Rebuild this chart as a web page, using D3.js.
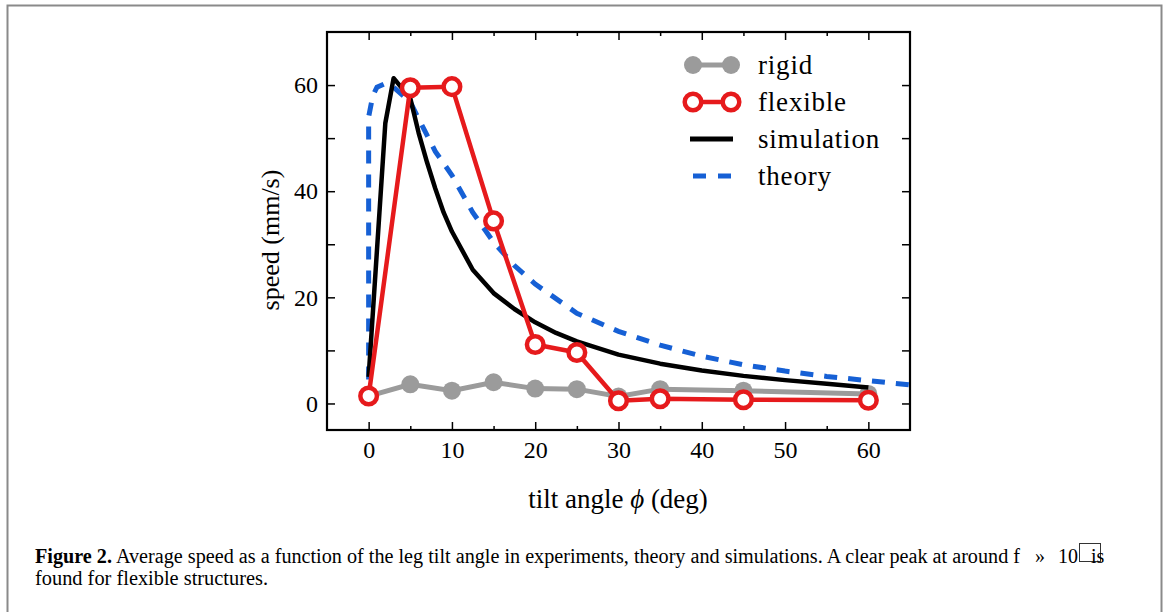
<!DOCTYPE html>
<html>
<head>
<meta charset="utf-8">
<script src="https://cdn.jsdelivr.net/npm/d3@7"></script>
<style>
  body { margin: 0; background: #fff; }
  svg text { font-family: "Liberation Serif", "DejaVu Serif", serif; fill: #000; }
</style>
</head>
<body>
<div id="chart"></div>
<script>
// tilt angles (deg) for experiments
var angles = [0, 5, 10, 15, 20, 25, 30, 35, 45, 60];
var rigid = [1.4, 3.6, 2.4, 4.0, 2.8, 2.7, 1.3, 2.7, 2.4, 1.8];
var flexible = [1.4, 59.5, 59.7, 34.4, 11.1, 9.6, 0.5, 0.9, 0.7, 0.6];

// simulation curve
var simAngles = [0, 2, 3, 5, 6, 7, 8, 9, 10, 12.5, 15, 17.5, 20, 22.5, 25, 30, 35, 40, 45, 50, 55, 60];
var simSpeed = [5, 52.8, 61.3, 57.5, 51, 45.5, 40.5, 36, 32.4, 25.2, 20.8, 17.8, 15.3, 13.3, 11.7, 9.2, 7.5, 6.2, 5.2, 4.4, 3.7, 3.0];

// theory curve
var thAngles = [0, 0, 0.5, 1, 2, 3, 4, 5, 6.5, 8, 10, 12.5, 15, 17.5, 20, 25, 30, 35, 40, 45, 50, 55, 60, 65];
var thSpeed = [0, 54, 58, 59.6, 60.3, 59.6, 58.2, 56.8, 52.1, 47.5, 43, 36, 30.4, 26, 22.5, 17, 13.6, 11, 8.9, 7.3, 6.1, 5.1, 4.3, 3.5];

var xTicks = [0, 10, 20, 30, 40, 50, 60];
var xMinor = [5, 15, 25, 35, 45, 55];
var yTicks = [0, 10, 20, 30, 40, 50, 60];
var yLabels = [0, 20, 40, 60];

var legendNames = ["rigid", "flexible", "simulation", "theory"];

var grey = "#9b9b9b", red = "#e61a1c", blue = "#1660d5";

var svg = d3.select("#chart").append("svg")
    .attr("width", 1169)
    .attr("height", 612);

// page border
svg.append("rect")
    .attr("x", 7.5).attr("y", 5.5)
    .attr("width", 1154).attr("height", 620)
    .attr("fill", "none")
    .attr("stroke", "#8a8a8a")
    .attr("stroke-width", 2);

var pLeft = 327, pTop = 32, pRight = 910, pBottom = 430;

var x = d3.scaleLinear().domain([-5, 65]).range([pLeft, pRight]);
var y = d3.scaleLinear().domain([-5, 70]).range([pBottom, pTop]);

// clip for the plot area
svg.append("clipPath").attr("id", "plotclip")
  .append("rect")
    .attr("x", pLeft).attr("y", pTop)
    .attr("width", pRight - pLeft).attr("height", pBottom - pTop);

// axes with inward ticks on all four sides
function styleAxis(g) {
    g.select(".domain").remove();
    g.selectAll("line").attr("stroke", "#000").attr("stroke-width", 1.5);
    g.selectAll("text").attr("font-family", "Liberation Serif").attr("font-size", 24).attr("fill", "#000");
}
svg.append("g")
    .attr("transform", "translate(0," + pBottom + ")")
    .call(d3.axisBottom(x).tickValues(xTicks).tickSizeInner(-8).tickSizeOuter(0).tickPadding(11))
    .call(styleAxis);
svg.append("g")
    .attr("transform", "translate(0," + pBottom + ")")
    .call(d3.axisBottom(x).tickValues(xMinor).tickSizeInner(-4).tickSizeOuter(0).tickFormat(""))
    .call(styleAxis);
svg.append("g")
    .attr("transform", "translate(0," + pTop + ")")
    .call(d3.axisTop(x).tickValues(xTicks).tickSizeInner(-8).tickSizeOuter(0).tickFormat(""))
    .call(styleAxis);
svg.append("g")
    .attr("transform", "translate(0," + pTop + ")")
    .call(d3.axisTop(x).tickValues(xMinor).tickSizeInner(-4).tickSizeOuter(0).tickFormat(""))
    .call(styleAxis);
svg.append("g")
    .attr("transform", "translate(" + pLeft + ",0)")
    .call(d3.axisLeft(y).tickValues(yTicks).tickSizeInner(-8).tickSizeOuter(0).tickPadding(9)
        .tickFormat(function (d) { return yLabels.indexOf(d) >= 0 ? d : ""; }))
    .call(styleAxis);
svg.append("g")
    .attr("transform", "translate(" + pRight + ",0)")
    .call(d3.axisRight(y).tickValues(yTicks).tickSizeInner(-8).tickSizeOuter(0).tickFormat(""))
    .call(styleAxis);

// frame
svg.append("rect")
    .attr("x", pLeft).attr("y", pTop)
    .attr("width", pRight - pLeft).attr("height", pBottom - pTop)
    .attr("fill", "none")
    .attr("stroke", "#000")
    .attr("stroke-width", 2.2);

var plot = svg.append("g").attr("clip-path", "url(#plotclip)");
var line = d3.line().x(function (d) { return x(d[0]); }).y(function (d) { return y(d[1]); });

// rigid
plot.append("path")
    .datum(d3.zip(angles, rigid))
    .attr("d", line)
    .attr("fill", "none").attr("stroke", grey).attr("stroke-width", 5);
plot.selectAll(".rigid").data(d3.zip(angles, rigid)).enter()
  .append("circle")
    .attr("cx", function (d) { return x(d[0]); })
    .attr("cy", function (d) { return y(d[1]); })
    .attr("r", 9)
    .attr("fill", grey);

// theory
plot.append("path")
    .datum(d3.zip(thAngles, thSpeed))
    .attr("d", line)
    .attr("fill", "none").attr("stroke", blue).attr("stroke-width", 5)
    .attr("stroke-dasharray", "13,11");

// simulation
plot.append("path")
    .datum(d3.zip(simAngles, simSpeed))
    .attr("d", line)
    .attr("fill", "none").attr("stroke", "#000").attr("stroke-width", 4.5)
    .attr("stroke-linejoin", "round");

// flexible
plot.append("path")
    .datum(d3.zip(angles, flexible))
    .attr("d", line)
    .attr("fill", "none").attr("stroke", red).attr("stroke-width", 4.5)
    .attr("stroke-linejoin", "round");
plot.selectAll(".flex").data(d3.zip(angles, flexible)).enter()
  .append("circle")
    .attr("cx", function (d) { return x(d[0]); })
    .attr("cy", function (d) { return y(d[1]); })
    .attr("r", 8.3)
    .attr("fill", "#fff")
    .attr("stroke", red).attr("stroke-width", 4.5);

// legend
var leg = svg.append("g");
var rowY = [65, 102, 139, 176];
leg.append("line").attr("x1", 693).attr("x2", 731).attr("y1", rowY[0]).attr("y2", rowY[0])
    .attr("stroke", grey).attr("stroke-width", 5);
[693, 731].forEach(function (cx) {
    leg.append("circle").attr("cx", cx).attr("cy", rowY[0]).attr("r", 9).attr("fill", grey);
});
leg.append("line").attr("x1", 693).attr("x2", 731).attr("y1", rowY[1]).attr("y2", rowY[1])
    .attr("stroke", red).attr("stroke-width", 4.5);
[693, 731].forEach(function (cx) {
    leg.append("circle").attr("cx", cx).attr("cy", rowY[1]).attr("r", 8.3)
        .attr("fill", "#fff").attr("stroke", red).attr("stroke-width", 4.5);
});
leg.append("line").attr("x1", 690).attr("x2", 733).attr("y1", rowY[2]).attr("y2", rowY[2])
    .attr("stroke", "#000").attr("stroke-width", 5);
leg.append("line").attr("x1", 693).attr("x2", 731).attr("y1", rowY[3]).attr("y2", rowY[3])
    .attr("stroke", blue).attr("stroke-width", 5).attr("stroke-dasharray", "13,12");
leg.selectAll("text").data(legendNames).enter()
  .append("text")
    .attr("x", 758)
    .attr("y", function (d, i) { return rowY[i] + 9; })
    .attr("font-size", 27)
    .attr("letter-spacing", 0.8)
    .text(function (d) { return d; });

// axis titles
var xt = svg.append("text")
    .attr("x", 618).attr("y", 508)
    .attr("text-anchor", "middle")
    .attr("font-size", 27);
xt.append("tspan").text("tilt angle ");
xt.append("tspan").attr("font-style", "italic").text("ϕ");
xt.append("tspan").text(" (deg)");

svg.append("text")
    .attr("transform", "translate(279,240) rotate(-90)")
    .attr("text-anchor", "middle")
    .attr("font-size", 26)
    .text("speed (mm/s)");

// caption
var cap = svg.append("text")
    .attr("x", 35).attr("y", 563)
    .attr("font-size", 20)
    .attr("textLength", 985)
    .attr("lengthAdjust", "spacingAndGlyphs");
cap.append("tspan").attr("font-weight", "bold").text("Figure 2.");
cap.append("tspan").text(" Average speed as a function of the leg tilt angle in experiments, theory and simulations. A clear peak at around f");
svg.append("text").attr("x", 1035).attr("y", 563).attr("font-size", 20).text("»");
svg.append("text").attr("x", 1058).attr("y", 563).attr("font-size", 20).text("10");
svg.append("rect")
    .attr("x", 1079.5).attr("y", 543.5).attr("width", 21).attr("height", 18)
    .attr("fill", "none").attr("stroke", "#333").attr("stroke-width", 1);
svg.append("text").attr("x", 1091).attr("y", 563).attr("font-size", 20).text("is");
svg.append("text")
    .attr("x", 35).attr("y", 585)
    .attr("font-size", 20)
    .attr("textLength", 233)
    .attr("lengthAdjust", "spacingAndGlyphs")
    .text("found for flexible structures.");
</script>
</body>
</html>
